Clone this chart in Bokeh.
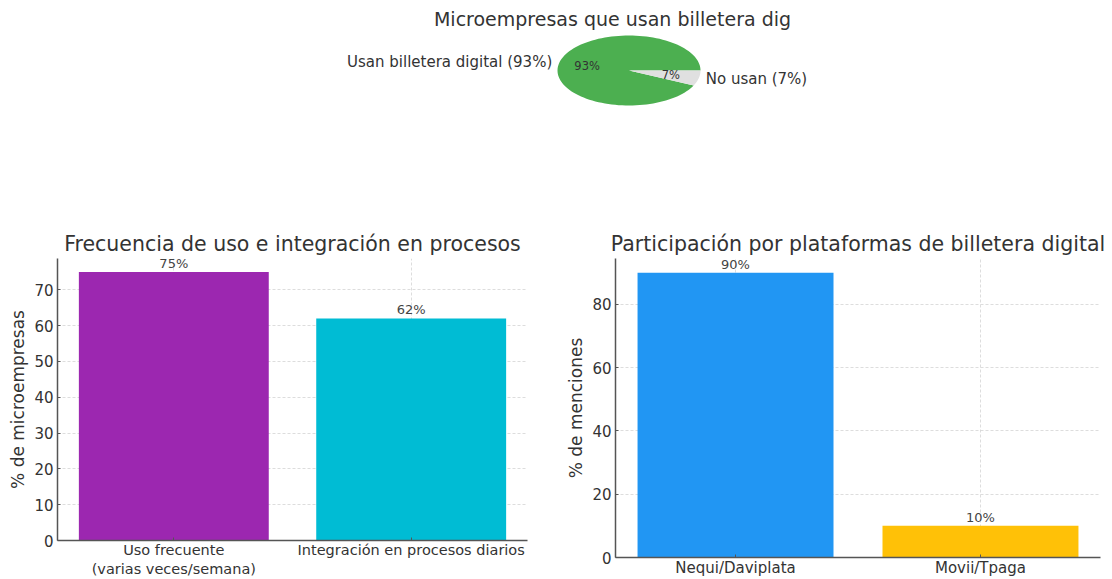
import numpy as np
from bokeh.plotting import figure
from bokeh.layouts import column, row
from bokeh.models import Range1d, FixedTicker, Label, ColumnDataSource
from bokeh.embed import file_html
from bokeh.resources import INLINE
from bokeh.core.properties import value

# ---------------- data ----------------
pie_title = "Microempresas que usan billetera dig"
pie_labels = ["Usan billetera digital (93%)", "No usan (7%)"]
pie_values = [93, 7]
pie_colors = ["#4CAF50", "#E0E0E0"]

freq_title = "Frecuencia de uso e integración en procesos"
freq_categories = ["Uso frecuente\n(varias veces/semana)", "Integración en procesos diarios"]
freq_values = [75, 62]
freq_colors = ["#9C27B0", "#00BCD4"]
freq_ylabel = "% de microempresas"
freq_ticks = [0, 10, 20, 30, 40, 50, 60, 70]

plat_title = "Participación por plataformas de billetera digital"
plat_categories = ["Nequi/Daviplata", "Movii/Tpaga"]
plat_values = [90, 10]
plat_colors = ["#2196F3", "#FFC107"]
plat_ylabel = "% de menciones"
plat_ticks = [0, 20, 40, 60, 80]

FONT = "DejaVu Sans"
TXT = "#333333"

# ---------------- pie (top) ----------------
W, H_TOP = 1112, 225
cx_px, cy_px, rx_px, ry_px = 628.5, 70.0, 71.5, 35.0
top = figure(width=W, height=H_TOP, output_backend="svg", toolbar_location=None,
             x_range=Range1d(-cx_px / rx_px, (W - cx_px) / rx_px),
             y_range=Range1d(cy_px / ry_px - H_TOP / ry_px, cy_px / ry_px),
             x_axis_type=None, y_axis_type=None, min_border=0)
top.grid.visible = False
top.outline_line_color = None

total = float(sum(pie_values))
xs, ys = [], []
lab_x, lab_y, lab_align = [], [], []
pct_x, pct_y, pct_txt = [], [], []
start = 0.0
for v in pie_values:
    end = start + v / total * 2 * np.pi
    t = np.linspace(start, end, 120)
    xs.append(np.concatenate([[0.0], np.cos(t)]).tolist())
    ys.append(np.concatenate([[0.0], np.sin(t)]).tolist())
    mid = (start + end) / 2
    lab_x.append(1.1 * np.cos(mid))
    lab_y.append(1.1 * np.sin(mid))
    lab_align.append("right" if np.cos(mid) < 0 else "left")
    pct_x.append(0.6 * np.cos(mid))
    pct_y.append(0.6 * np.sin(mid))
    pct_txt.append(f"{v / total * 100:.0f}%")
    start = end

top.patches(xs, ys, fill_color=pie_colors, line_color=None)
top.text(x=lab_x, y=lab_y, text=pie_labels, text_align=lab_align,
         text_baseline="middle", text_font=value(FONT), text_font_size="15px",
         text_color=TXT)
top.text(x=pct_x, y=pct_y, text=pct_txt, text_align="center",
         text_baseline="middle", text_font=value(FONT), text_font_size="11.5px",
         text_color=TXT)
top.add_layout(Label(x=612, y=H_TOP - 18, x_units="screen", y_units="screen",
                     text=pie_title, text_align="center", text_baseline="middle",
                     text_font=FONT, text_font_size="19px", text_color=TXT))


# ---------------- bar charts ----------------
def bar_fig(title, cats, vals, colors, ylabel, ticks, width, height,
            mb_left, mb_right, mb_top, mb_bottom, xfont, xstand):
    n = len(vals)
    src = ColumnDataSource(dict(x=list(range(n)), top=vals, color=colors,
                                lab=[f"{v}%" for v in vals]))
    p = figure(width=width, height=height, output_backend="svg", toolbar_location=None,
               x_range=Range1d(-0.49, n - 1 + 0.49),
               y_range=Range1d(0, max(vals) * 1.05),
               min_border_left=mb_left, min_border_right=mb_right,
               min_border_top=mb_top, min_border_bottom=mb_bottom)
    p.outline_line_color = None
    p.vbar(x="x", top="top", width=0.8, fill_color="color", line_color=None, source=src)
    p.text(x="x", y="top", text="lab", source=src, text_align="center",
           text_baseline="bottom", text_font=value(FONT), text_font_size="13px",
           text_color="#444444", y_offset=-1)

    p.title.text = title
    p.title.align = "center"
    p.title.text_font = FONT
    p.title.text_font_size = "20.5px"
    p.title.text_font_style = "normal"
    p.title.text_color = TXT
    p.title.standoff = 5

    p.xaxis.ticker = FixedTicker(ticks=list(range(n)))
    p.xaxis.major_label_overrides = {i: c for i, c in enumerate(cats)}
    p.yaxis.ticker = FixedTicker(ticks=ticks)
    p.yaxis.axis_label = ylabel
    for ax in (p.xaxis, p.yaxis):
        ax.axis_line_color = "#555555"
        ax.axis_line_width = 1.5
        ax.major_tick_line_color = "#555555"
        ax.minor_tick_line_color = None
        ax.major_tick_in = 3
        ax.major_tick_out = 0
        ax.major_label_text_font = FONT
        ax.major_label_text_font_size = "15px"
        ax.major_label_text_color = TXT
        ax.axis_label_text_font = FONT
        ax.axis_label_text_font_size = "17px"
        ax.axis_label_text_font_style = "normal"
        ax.axis_label_text_color = TXT
    p.xaxis.major_label_text_font_size = xfont
    p.xaxis.major_label_standoff = xstand
    p.yaxis.major_label_standoff = 4
    p.yaxis.axis_label_standoff = 3

    p.grid.grid_line_color = "#d4d4d4"
    p.grid.grid_line_dash = "3 2"
    p.grid.grid_line_width = 0.8
    return p


left = bar_fig(freq_title, freq_categories, freq_values, freq_colors, freq_ylabel,
               freq_ticks, 560, 354, 57, 33, 33, 39, "14.5px", 1)
right = bar_fig(plat_title, plat_categories, plat_values, plat_colors, plat_ylabel,
                plat_ticks, 552, 354, 55, 12, 33, 21, "15px", 1)

layout = column(top, row(column(left), column(right)))
open("out.html", "w").write(file_html(layout, INLINE))
